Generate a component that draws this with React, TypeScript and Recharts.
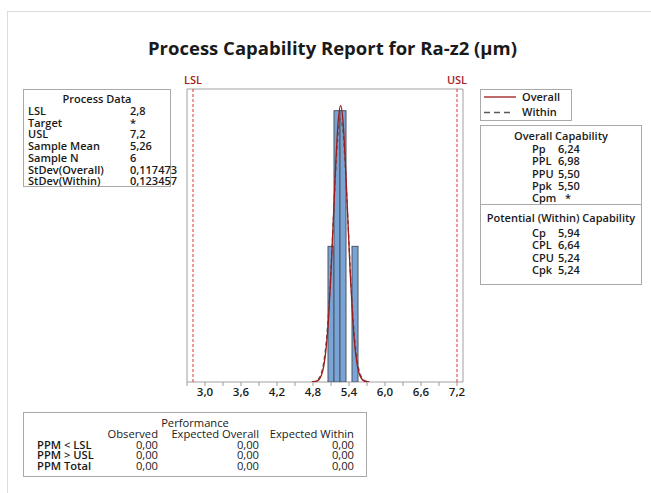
import React from "react";
import {
  ComposedChart,
  Bar,
  Line,
  XAxis,
  YAxis,
  ReferenceLine,
  ReferenceArea,
} from "recharts";

// histogram bins (Ra-z2, µm)
const binCenters = [5.1, 5.2, 5.3, 5.4, 5.5];
const binCounts = [1, 2, 2, 0, 1];

// fitted curves
const curveX = [
  4.78, 4.82, 4.86, 4.9, 4.94, 4.98, 5.02, 5.06, 5.1, 5.14, 5.18, 5.22, 5.26,
  5.3, 5.34, 5.38, 5.42, 5.46, 5.5, 5.54, 5.58, 5.62, 5.66, 5.7, 5.74,
];
const overallFit = [
  0.0005, 0.0018, 0.0062, 0.0186, 0.0499, 0.119, 0.253, 0.479, 0.806, 1.21,
  1.616, 1.923, 2.038, 1.923, 1.616, 1.21, 0.806, 0.479, 0.253, 0.119, 0.0499,
  0.0186, 0.0062, 0.0018, 0.0005,
];
const withinFit = [
  0.001, 0.0034, 0.0102, 0.0276, 0.0674, 0.148, 0.293, 0.522, 0.837, 1.209,
  1.572, 1.84, 1.939, 1.84, 1.572, 1.209, 0.837, 0.522, 0.293, 0.148, 0.0674,
  0.0276, 0.0102, 0.0034, 0.001,
];

const LSL = 2.8;
const USL = 7.2;

const axisTicks = [2.7, 3.0, 3.3, 3.6, 3.9, 4.2, 4.5, 4.8, 5.1, 5.4, 5.7, 6.0, 6.3, 6.6, 6.9, 7.2];
const labelTicks = [3.0, 3.6, 4.2, 4.8, 5.4, 6.0, 6.6, 7.2];
const tickLabels = ["3,0", "3,6", "4,2", "4,8", "5,4", "6,0", "6,6", "7,2"];

const processLabels = ["LSL", "Target", "USL", "Sample Mean", "Sample N", "StDev(Overall)", "StDev(Within)"];
const processValues = ["2,8", "*", "7,2", "5,26", "6", "0,117473", "0,123457"];

const overallLabels = ["Pp", "PPL", "PPU", "Ppk", "Cpm"];
const overallValues = ["6,24", "6,98", "5,50", "5,50", "*"];
const withinLabels = ["Cp", "CPL", "CPU", "Cpk"];
const withinValues = ["5,94", "6,64", "5,24", "5,24"];

const perfColumns = ["Observed", "Expected Overall", "Expected Within"];
const perfRows = ["PPM < LSL", "PPM > USL", "PPM Total"];
const perfValues = [
  ["0,00", "0,00", "0,00"],
  ["0,00", "0,00", "0,00"],
  ["0,00", "0,00", "0,00"],
];

const barData = binCenters.map((x, i) => ({ x, count: binCounts[i] }));
const curveData = curveX.map((x, i) => ({ x, overall: overallFit[i], within: withinFit[i] }));

const FONT = "'Open Sans', 'Noto Sans', sans-serif";
const TXT = "#1a1a1a";
const BOX = "1px solid #a9a9a9";
const BIN_PX = 6; // 0.1 µm bin at 60 px per µm

function fmtTick(v: number) {
  const i = labelTicks.findIndex((t) => Math.abs(t - v) < 1e-6);
  return i >= 0 ? tickLabels[i] : "";
}

// full-width histogram bar centred on the bin value
const BinShape = (p: any) => {
  if (!p.height) return null;
  const cx = p.x + p.width / 2;
  return (
    <rect
      x={cx - BIN_PX / 2}
      y={p.y}
      width={BIN_PX}
      height={p.height}
      fill="#7ba4d6"
      stroke="#4b5563"
      strokeWidth={1}
    />
  );
};

const cell = (
  left: number,
  top: number,
  text: string,
  lh: number,
  extra: React.CSSProperties = {}
) => (
  <div
    key={`${left}-${top}-${text}`}
    style={{
      position: "absolute",
      left,
      top,
      lineHeight: `${lh}px`,
      whiteSpace: "nowrap",
      ...extra,
    }}
  >
    {text}
  </div>
);

export default function App() {
  return (
    <div
      style={{
        position: "absolute",
        left: 0,
        top: 0,
        width: 651,
        height: 493,
        background: "#fff",
        overflow: "hidden",
        fontFamily: FONT,
        color: TXT,
        fontSize: 11,
        fontWeight: 600,
      }}
    >
      <div
        style={{
          position: "absolute",
          left: 7,
          top: 11,
          width: 700,
          height: 520,
          borderLeft: "1px solid #dcdcdc",
          borderTop: "1px solid #dcdcdc",
        }}
      />
      <div
        style={{
          position: "absolute",
          left: 0,
          width: 651,
          top: 35,
          textAlign: "center",
          fontSize: 18.5,
          fontWeight: 700,
          paddingLeft: 14,
          boxSizing: "border-box",
        }}
      >
        Process Capability Report for Ra-z2 (µm)
      </div>

      <div style={{ position: "absolute", left: 0, top: 0 }}>
        <ComposedChart
          width={651}
          height={493}
          data={barData}
          margin={{ top: 89, right: 188, bottom: 81, left: 187 }}
        >
          <XAxis
            dataKey="x"
            type="number"
            domain={[2.7, 7.3]}
            ticks={axisTicks}
            interval={0}
            tickFormatter={fmtTick}
            height={30}
            axisLine={false}
            tickLine={{ stroke: "#9a9a9a" }}
            tickSize={4}
            tick={{ fill: TXT, fontSize: 11.5, fontWeight: 600, fontFamily: FONT }}
            allowDataOverflow
          />
          <YAxis type="number" domain={[0, 2.16]} hide allowDataOverflow />
          <ReferenceArea
            x1={2.7}
            x2={7.3}
            y1={0}
            y2={2.16}
            fill="none"
            stroke="#a0a0a0"
            strokeWidth={1}
          />
          <Bar
            dataKey="count"
            fill="#7ba4d6"
            shape={BinShape}
            isAnimationActive={false}
          />
          <Line
            data={curveData}
            dataKey="within"
            type="monotone"
            stroke="#5a5a5a"
            strokeWidth={1.3}
            strokeDasharray="4 3"
            dot={false}
            isAnimationActive={false}
          />
          <Line
            data={curveData}
            dataKey="overall"
            type="monotone"
            stroke="#9e1b1b"
            strokeWidth={1.3}
            dot={false}
            isAnimationActive={false}
          />
          <ReferenceLine
            x={LSL}
            stroke="#e2342b"
            strokeDasharray="3 2"
            label={{ value: "LSL", position: "top", fill: "#a61d24", fontSize: 11, fontWeight: 600, fontFamily: FONT }}
          />
          <ReferenceLine
            x={USL}
            stroke="#e2342b"
            strokeDasharray="3 2"
            label={{ value: "USL", position: "top", fill: "#a61d24", fontSize: 11, fontWeight: 600, fontFamily: FONT }}
          />
        </ComposedChart>
      </div>

      {/* Process Data */}
      <div
        style={{
          position: "absolute",
          left: 23,
          top: 89,
          width: 148,
          height: 98,
          border: BOX,
          boxSizing: "border-box",
        }}
      >
        {cell(0, 3, "Process Data", 11.7, { width: 146, textAlign: "center" })}
        {processLabels.map((l, i) => cell(4, 15 + i * 11.7, l, 11.7))}
        {processValues.map((v, i) => cell(106, 15 + i * 11.7, v, 11.7))}
      </div>

      {/* Legend */}
      <div
        style={{
          position: "absolute",
          left: 480,
          top: 89,
          width: 92,
          height: 32,
          border: BOX,
          boxSizing: "border-box",
        }}
      >
        <svg width={40} height={30} style={{ position: "absolute", left: 0, top: 0 }}>
          <line x1={3} x2={35} y1={7} y2={7} stroke="#9e1b1b" strokeWidth={1.3} />
          <line x1={3} x2={33} y1={22.5} y2={22.5} stroke="#5a5a5a" strokeWidth={1.3} strokeDasharray="6 4" />
        </svg>
        {cell(41, 1, "Overall", 12)}
        {cell(41, 16, "Within", 12)}
      </div>

      {/* Capability */}
      <div
        style={{
          position: "absolute",
          left: 480,
          top: 125,
          width: 162,
          height: 160,
          border: BOX,
          boxSizing: "border-box",
        }}
      >
        {cell(0, 4, "Overall Capability", 12.3, { width: 160, textAlign: "center" })}
        {overallLabels.map((l, i) => cell(51, 17 + i * 12.3, l, 12.3))}
        {overallValues.map((v, i) => cell(v === "*" ? 84 : 77, 17 + i * 12.3, v, 12.3))}
        <div
          style={{
            position: "absolute",
            left: 0,
            top: 78,
            width: 160,
            borderTop: BOX,
          }}
        />
        {cell(0, 86, "Potential (Within) Capability", 12.3, { width: 160, textAlign: "center" })}
        {withinLabels.map((l, i) => cell(51, 101 + i * 12.3, l, 12.3))}
        {withinValues.map((v, i) => cell(77, 101 + i * 12.3, v, 12.3))}
      </div>

      {/* Performance */}
      <div
        style={{
          position: "absolute",
          left: 23,
          top: 412,
          width: 344,
          height: 65,
          border: BOX,
          boxSizing: "border-box",
          fontWeight: 500,
          fontSize: 11.2,
        }}
      >
        {cell(0, 5, "Performance", 10.6, { width: 342, textAlign: "center" })}
        {perfColumns.map((c, j) =>
          cell(0, 16, c, 10.6, { width: [134, 235, 330][j], textAlign: "right" })
        )}
        {perfRows.map((r, i) => cell(13, 26.6 + i * 10.6, r, 10.6, { fontWeight: 600 }))}
        {perfValues.map((row, i) =>
          row.map((v, j) =>
            cell(0, 26.6 + i * 10.6, v, 10.6, { width: [134, 235, 330][j], textAlign: "right" })
          )
        )}
      </div>
    </div>
  );
}
